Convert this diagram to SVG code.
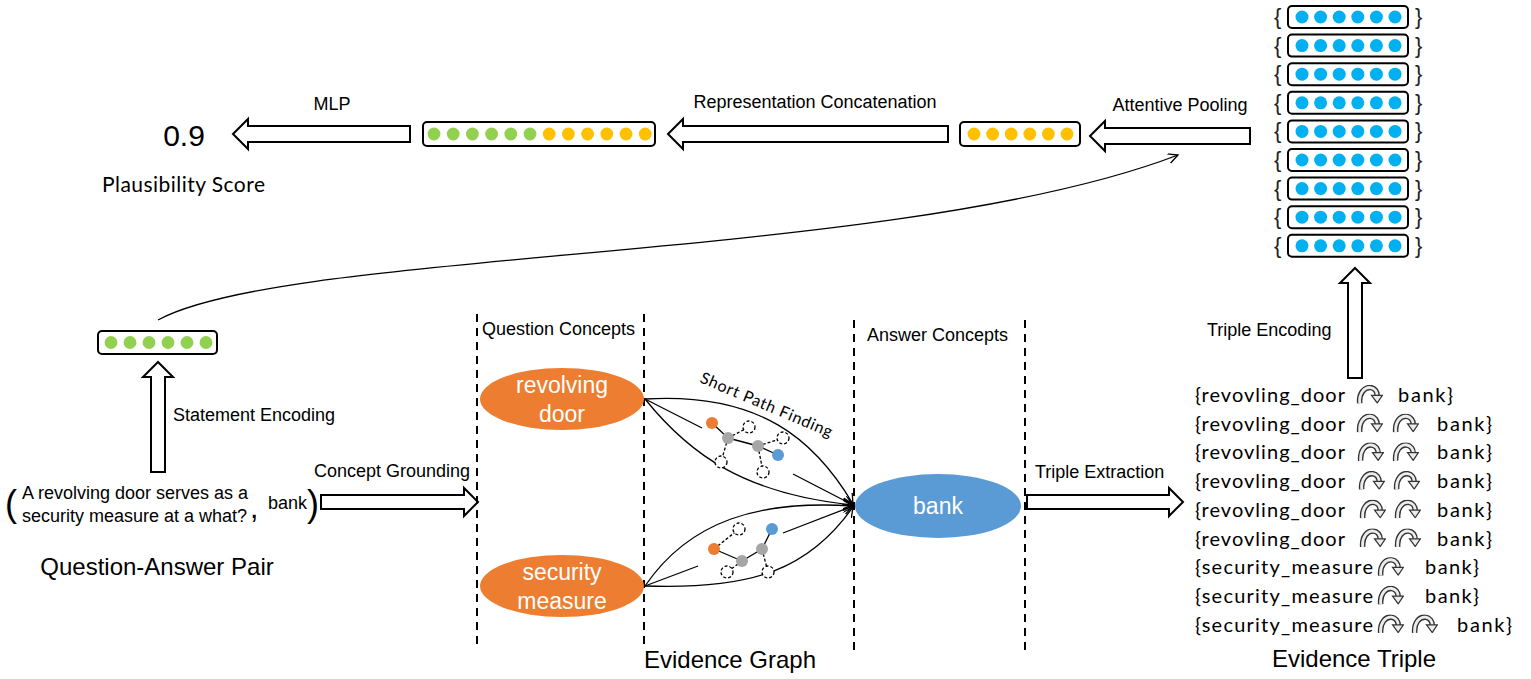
<svg xmlns="http://www.w3.org/2000/svg" width="1531" height="679" viewBox="0 0 1531 679">
<style>
.lbl{font-family:"Liberation Sans",Arial,sans-serif;font-size:18px;fill:#000}
.big{font-family:"Liberation Sans",Arial,sans-serif;font-size:24px;fill:#000}
.cal{font-family:Lato,"Open Sans",sans-serif;fill:#000}
.ell{font-family:"Liberation Sans",Arial,sans-serif;font-size:23px;fill:#fff}
.box{fill:#fff;stroke:#000;stroke-width:2}
.harrow{fill:#fff;stroke:#000;stroke-width:2;stroke-linejoin:miter}
.dash{stroke:#000;stroke-width:2;stroke-dasharray:8,6;fill:none}
.thin{fill:none;stroke:#000;stroke-width:1.3}
.g{fill:#92D050}.o{fill:#FFC000}.b{fill:#00B0F0}
.gray{fill:#A6A6A6}.ndo{fill:#ED7D31}.ndb{fill:#5B9BD5}
.dc{fill:#fff;stroke:#000;stroke-width:1.3;stroke-dasharray:3,2}
.se{stroke:#000;stroke-width:1.3}
.de{stroke:#000;stroke-width:1.3;stroke-dasharray:3,2}
.brace{font-family:"Liberation Sans",Arial,sans-serif;font-size:22px;fill:#222}
</style>
<defs>
<marker id="ah" markerWidth="12" markerHeight="12" refX="10" refY="5" orient="auto" markerUnits="userSpaceOnUse">
<path d="M0,0 L10,5 L0,10" fill="none" stroke="#000" stroke-width="1.3"/>
</marker>
<symbol id="ca" viewBox="0 0 26 18">
<path d="M3.5,18 C2.5,8 8,2 14,2.5 C18,3 20.5,6.5 20.5,10.5" fill="none" stroke="#333" stroke-width="5.4"/>
<path d="M3.5,18 C2.5,8 8,2 14,2.5 C18,3 20.5,6.5 20.5,10.5" fill="none" stroke="#ececec" stroke-width="2.8"/>
<polygon points="15,10 25.5,10 20.5,17.5" fill="#ececec" stroke="#333" stroke-width="1.2"/>
</symbol>
<g id="v6b">
<circle cx="14" cy="0" r="6.5" class="b"/><circle cx="32.6" cy="0" r="6.5" class="b"/><circle cx="51.2" cy="0" r="6.5" class="b"/><circle cx="69.8" cy="0" r="6.5" class="b"/><circle cx="88.4" cy="0" r="6.5" class="b"/><circle cx="107" cy="0" r="6.5" class="b"/>
</g>
</defs>

<!-- Top row -->
<g id="score">
<text x="184" y="146" text-anchor="middle" font-family="Liberation Sans,Arial,sans-serif" font-size="30">0.9</text>
<text x="102" y="192" class="cal" font-size="21" textLength="163">Plausibility Score</text>
</g>
<g id="mlp">
<polygon class="harrow" points="233,134 248,119 248,126 410,126 410,142 248,142 248,149"/>
<text x="332" y="110" class="lbl" text-anchor="middle">MLP</text>
</g>
<g id="concat-vector">
<rect class="box" x="423" y="122" width="232" height="24" rx="4"/>
<circle cx="434" cy="134" r="6.4" class="g"/><circle cx="453.2" cy="134" r="6.4" class="g"/><circle cx="472.4" cy="134" r="6.4" class="g"/><circle cx="491.6" cy="134" r="6.4" class="g"/><circle cx="510.8" cy="134" r="6.4" class="g"/><circle cx="530" cy="134" r="6.4" class="g"/>
<circle cx="549.2" cy="134" r="6.4" class="o"/><circle cx="568.4" cy="134" r="6.4" class="o"/><circle cx="587.6" cy="134" r="6.4" class="o"/><circle cx="606.8" cy="134" r="6.4" class="o"/><circle cx="626" cy="134" r="6.4" class="o"/><circle cx="645.2" cy="134" r="6.4" class="o"/>
</g>
<g id="rep-concat">
<polygon class="harrow" points="668,134 683,119 683,126 948,126 948,142 683,142 683,149"/>
<text x="815" y="108" class="lbl" text-anchor="middle">Representation Concatenation</text>
</g>
<g id="pooled-vector">
<rect class="box" x="960" y="122" width="120" height="24" rx="4"/>
<circle cx="974" cy="134" r="6.4" class="o"/><circle cx="992.6" cy="134" r="6.4" class="o"/><circle cx="1011.2" cy="134" r="6.4" class="o"/><circle cx="1029.8" cy="134" r="6.4" class="o"/><circle cx="1048.4" cy="134" r="6.4" class="o"/><circle cx="1067" cy="134" r="6.4" class="o"/>
</g>
<g id="attentive-pooling">
<polygon class="harrow" points="1090,136 1105,121 1105,128 1250,128 1250,144 1105,144 1105,151"/>
<text x="1180" y="111" class="lbl" text-anchor="middle">Attentive Pooling</text>
</g>

<!-- Triple vector stack -->
<g id="triple-vectors">
<g transform="translate(0,17)"><text x="1274" y="7" class="brace">{</text><rect class="box" x="1288" y="-11" width="120" height="22" rx="4"/><use href="#v6b" x="1288"/><text x="1415" y="7" class="brace">}</text></g>
<g transform="translate(0,45.6)"><text x="1274" y="7" class="brace">{</text><rect class="box" x="1288" y="-11" width="120" height="22" rx="4"/><use href="#v6b" x="1288"/><text x="1415" y="7" class="brace">}</text></g>
<g transform="translate(0,74.2)"><text x="1274" y="7" class="brace">{</text><rect class="box" x="1288" y="-11" width="120" height="22" rx="4"/><use href="#v6b" x="1288"/><text x="1415" y="7" class="brace">}</text></g>
<g transform="translate(0,102.8)"><text x="1274" y="7" class="brace">{</text><rect class="box" x="1288" y="-11" width="120" height="22" rx="4"/><use href="#v6b" x="1288"/><text x="1415" y="7" class="brace">}</text></g>
<g transform="translate(0,131.4)"><text x="1274" y="7" class="brace">{</text><rect class="box" x="1288" y="-11" width="120" height="22" rx="4"/><use href="#v6b" x="1288"/><text x="1415" y="7" class="brace">}</text></g>
<g transform="translate(0,160)"><text x="1274" y="7" class="brace">{</text><rect class="box" x="1288" y="-11" width="120" height="22" rx="4"/><use href="#v6b" x="1288"/><text x="1415" y="7" class="brace">}</text></g>
<g transform="translate(0,188.6)"><text x="1274" y="7" class="brace">{</text><rect class="box" x="1288" y="-11" width="120" height="22" rx="4"/><use href="#v6b" x="1288"/><text x="1415" y="7" class="brace">}</text></g>
<g transform="translate(0,217.2)"><text x="1274" y="7" class="brace">{</text><rect class="box" x="1288" y="-11" width="120" height="22" rx="4"/><use href="#v6b" x="1288"/><text x="1415" y="7" class="brace">}</text></g>
<g transform="translate(0,245.8)"><text x="1274" y="7" class="brace">{</text><rect class="box" x="1288" y="-11" width="120" height="22" rx="4"/><use href="#v6b" x="1288"/><text x="1415" y="7" class="brace">}</text></g>
</g>

<!-- Statement side -->
<g id="statement-vector">
<rect class="box" x="98" y="331" width="119" height="23" rx="4"/>
<circle cx="111" cy="342.5" r="6.4" class="g"/><circle cx="130" cy="342.5" r="6.4" class="g"/><circle cx="149" cy="342.5" r="6.4" class="g"/><circle cx="168" cy="342.5" r="6.4" class="g"/><circle cx="187" cy="342.5" r="6.4" class="g"/><circle cx="206" cy="342.5" r="6.4" class="g"/>
</g>
<g id="statement-encoding">
<polygon class="harrow" points="158,362 173,377 165,377 165,472 151,472 151,377 143,377"/>
<text x="173" y="421" class="lbl">Statement Encoding</text>
</g>
<g id="qa-pair">
<text x="5" y="516" font-family="Liberation Sans,Arial,sans-serif" font-size="36">(</text>
<text x="22" y="499" class="lbl">A revolving door serves as a</text>
<text x="22" y="522" class="lbl">security measure at a what?</text>
<text x="250" y="518" font-family="Liberation Sans,Arial,sans-serif" font-size="30">,</text>
<text x="268" y="509" class="lbl">bank</text>
<text x="307" y="516" font-family="Liberation Sans,Arial,sans-serif" font-size="36">)</text>
<text x="157" y="575" class="big" text-anchor="middle">Question-Answer Pair</text>
</g>
<g id="concept-grounding">
<polygon class="harrow" points="478,502 464,488 464,495 321,495 321,509 464,509 464,516"/>
<text x="314" y="477" class="lbl">Concept Grounding</text>
</g>

<!-- Evidence graph -->
<g id="columns">
<line class="dash" x1="477" y1="314" x2="477" y2="646"/>
<line class="dash" x1="644" y1="314" x2="644" y2="646"/>
<line class="dash" x1="854" y1="320" x2="854" y2="650"/>
<line class="dash" x1="1025" y1="320" x2="1025" y2="650"/>
<text x="482" y="335" class="lbl">Question Concepts</text>
<text x="867" y="341" class="lbl">Answer Concepts</text>
<text x="730" y="668" class="big" text-anchor="middle">Evidence Graph</text>
</g>
<g id="node-revolving-door">
<ellipse cx="562" cy="399" rx="82" ry="31" fill="#ED7D31"/>
<text x="562" y="393" class="ell" text-anchor="middle">revolving</text>
<text x="562" y="422" class="ell" text-anchor="middle">door</text>
</g>
<g id="node-security-measure">
<ellipse cx="562" cy="586" rx="82" ry="31" fill="#ED7D31"/>
<text x="562" y="580" class="ell" text-anchor="middle">security</text>
<text x="562" y="609" class="ell" text-anchor="middle">measure</text>
</g>
<g id="node-bank">
<ellipse cx="938" cy="506" rx="83" ry="32" fill="#5B9BD5"/>
<text x="938" y="514" class="ell" font-size="24" text-anchor="middle">bank</text>
</g>

<g id="connectors">
<path class="thin" d="M645,399 C760,392 815,440 853,504" marker-end="url(#ah)"/>
<path class="thin" d="M645,399 C690,455 745,494 853,505" marker-end="url(#ah)"/>
<line class="thin" x1="645" y1="399" x2="702" y2="428"/>
<line class="thin" x1="793" y1="474" x2="853" y2="505" marker-end="url(#ah)"/>
<path class="thin" d="M645,586 C690,520 760,500 853,506" marker-end="url(#ah)"/>
<path class="thin" d="M645,586 C755,590 810,568 853,507" marker-end="url(#ah)"/>
<line class="thin" x1="645" y1="586" x2="698" y2="566"/>
<line class="thin" x1="783" y1="533" x2="853" y2="506" marker-end="url(#ah)"/>
<path class="thin" d="M158,320 C290,248 900,262 1178,155" marker-end="url(#ah)"/>
</g>
<text x="699" y="382" class="cal" font-size="16" transform="rotate(23 699 382)" textLength="142">Short Path Finding</text>

<g id="path-graph-1">
<line class="se" x1="712" y1="423" x2="728" y2="438"/>
<line class="de" x1="728" y1="438" x2="749" y2="427"/>
<line class="de" x1="728" y1="438" x2="721" y2="462"/>
<line class="se" x1="728" y1="438" x2="758" y2="446"/>
<line class="de" x1="758" y1="446" x2="783" y2="438"/>
<line class="se" x1="758" y1="446" x2="778" y2="455"/>
<line class="de" x1="758" y1="446" x2="763" y2="472"/>
<circle class="dc" cx="749" cy="427" r="6"/><circle class="dc" cx="721" cy="462" r="6"/><circle class="dc" cx="783" cy="438" r="6"/><circle class="dc" cx="763" cy="472" r="6"/>
<circle class="ndo" cx="712" cy="423" r="6"/><circle class="gray" cx="728" cy="438" r="6"/><circle class="gray" cx="758" cy="446" r="6"/><circle class="ndb" cx="778" cy="455" r="6"/>
</g>
<g id="path-graph-2">
<line class="de" x1="714" y1="549" x2="739" y2="529"/>
<line class="se" x1="714" y1="549" x2="742" y2="561"/>
<line class="se" x1="742" y1="561" x2="762" y2="549"/>
<line class="se" x1="762" y1="549" x2="772" y2="529"/>
<line class="de" x1="742" y1="561" x2="727" y2="572"/>
<line class="de" x1="762" y1="549" x2="768" y2="572"/>
<circle class="dc" cx="739" cy="529" r="6"/><circle class="dc" cx="727" cy="572" r="6"/><circle class="dc" cx="768" cy="572" r="6"/>
<circle class="ndo" cx="714" cy="549" r="6"/><circle class="gray" cx="742" cy="561" r="6"/><circle class="gray" cx="762" cy="549" r="6"/><circle class="ndb" cx="772" cy="529" r="6"/>
</g>

<!-- Triples -->
<g id="triple-extraction">
<polygon class="harrow" points="1183,502 1169,488 1169,495 1027,495 1027,509 1169,509 1169,516"/>
<text x="1035" y="478" class="lbl">Triple Extraction</text>
</g>
<g id="triple-encoding">
<polygon class="harrow" points="1355,268 1370,283 1362,283 1362,378 1348,378 1348,283 1340,283"/>
<text x="1207" y="336" class="lbl">Triple Encoding</text>
</g>
<g id="evidence-triples" class="cal" font-size="20">
<text x="1195" y="402" textLength="150">{revovling_door</text><use href="#ca" x="1356" y="385" width="27" height="18.5"/><text x="1398" y="402" textLength="55">bank}</text>
<text x="1195" y="430.7" textLength="150">{revovling_door</text><use href="#ca" x="1356" y="413.7" width="27" height="18.5"/><use href="#ca" x="1392" y="413.7" width="27" height="18.5"/><text x="1437" y="430.7" textLength="55">bank}</text>
<text x="1195" y="459.4" textLength="150">{revovling_door</text><use href="#ca" x="1357" y="442.4" width="27" height="18.5"/><use href="#ca" x="1392" y="442.4" width="27" height="18.5"/><text x="1437" y="459.4" textLength="55">bank}</text>
<text x="1195" y="488.1" textLength="150">{revovling_door</text><use href="#ca" x="1358" y="471.1" width="27" height="18.5"/><use href="#ca" x="1393" y="471.1" width="27" height="18.5"/><text x="1437" y="488.1" textLength="55">bank}</text>
<text x="1195" y="516.8" textLength="150">{revovling_door</text><use href="#ca" x="1359" y="499.8" width="27" height="18.5"/><use href="#ca" x="1394" y="499.8" width="27" height="18.5"/><text x="1437" y="516.8" textLength="55">bank}</text>
<text x="1195" y="545.5" textLength="150">{revovling_door</text><use href="#ca" x="1359" y="528.5" width="27" height="18.5"/><use href="#ca" x="1394" y="528.5" width="27" height="18.5"/><text x="1437" y="545.5" textLength="55">bank}</text>
<text x="1195" y="574.2" textLength="178">{security_measure</text><use href="#ca" x="1377" y="557.2" width="27" height="18.5"/><text x="1425" y="574.2" textLength="54">bank}</text>
<text x="1195" y="602.9" textLength="178">{security_measure</text><use href="#ca" x="1377" y="585.9" width="27" height="18.5"/><text x="1425" y="602.9" textLength="54">bank}</text>
<text x="1195" y="631.6" textLength="178">{security_measure</text><use href="#ca" x="1377" y="614.6" width="27" height="18.5"/><use href="#ca" x="1411" y="614.6" width="27" height="18.5"/><text x="1457" y="631.6" textLength="55">bank}</text>
<text x="1354" y="667" class="big" text-anchor="middle">Evidence Triple</text>
</g>
</svg>
